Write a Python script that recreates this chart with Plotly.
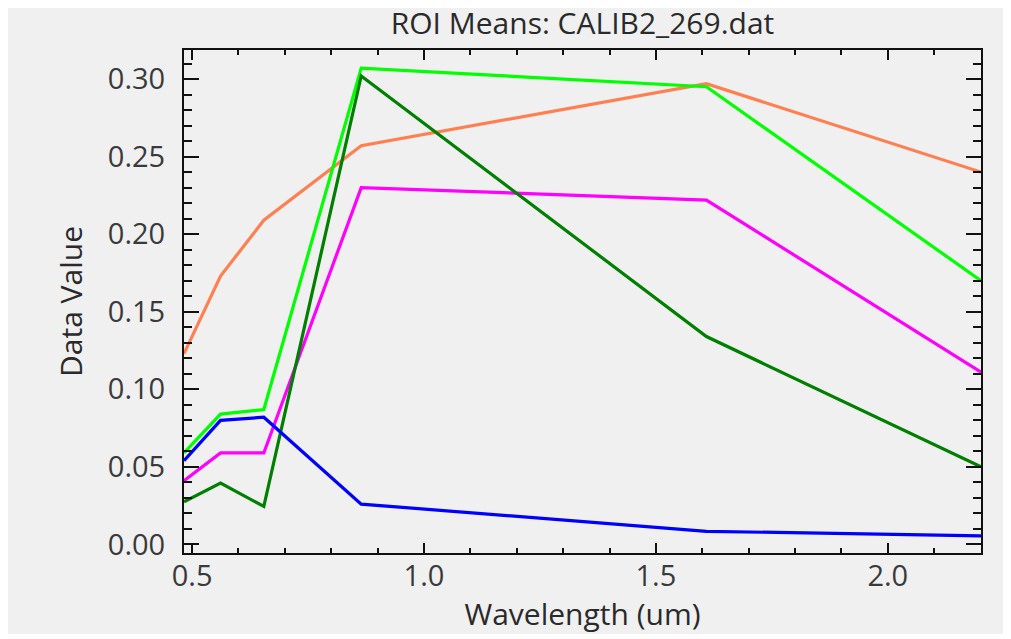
import plotly.graph_objects as go

# Wavelengths (um) of the band centres
wavelength = [0.4825, 0.5613, 0.6546, 0.8646, 1.6090, 2.2010]

# ROI mean spectra
roi_orange = [0.123, 0.173, 0.209, 0.257, 0.297, 0.240]
roi_lime = [0.059, 0.084, 0.087, 0.307, 0.295, 0.170]
roi_magenta = [0.041, 0.059, 0.059, 0.230, 0.222, 0.111]
roi_darkgreen = [0.0275, 0.0395, 0.0245, 0.302, 0.134, 0.050]
roi_blue = [0.054, 0.080, 0.082, 0.026, 0.0085, 0.0055]

series = [
    ("ROI 1", roi_orange, "#FF7F50"),
    ("ROI 2", roi_lime, "#00FF00"),
    ("ROI 3", roi_magenta, "#FF00FF"),
    ("ROI 4", roi_darkgreen, "#008000"),
    ("ROI 5", roi_blue, "#0000FF"),
]

x_ticks = [0.5, 1.0, 1.5, 2.0]
x_tick_text = ["0.5", "1.0", "1.5", "2.0"]
y_ticks = [0.00, 0.05, 0.10, 0.15, 0.20, 0.25, 0.30]
y_tick_text = ["0.00", "0.05", "0.10", "0.15", "0.20", "0.25", "0.30"]

fig = go.Figure()
for name, vals, col in series:
    fig.add_trace(go.Scatter(x=wavelength, y=vals, mode="lines", name=name,
                             line=dict(color=col, width=3.2)))

W, H = 998, 626
ml, mr, mt, mb = 176, 25, 42, 81
pw, ph = W - ml - mr, H - mt - mb

BG = "#f0f0f0"
FONT = "Open Sans, Noto Sans, sans-serif"

fig.update_layout(
    width=W, height=H,
    margin=dict(l=ml, r=mr, t=mt, b=mb),
    paper_bgcolor=BG,
    plot_bgcolor=BG,
    showlegend=False,
    font=dict(family=FONT, color="#333333"),
    title=dict(text="ROI Means: CALIB2_269.dat", x=(ml + pw / 2) / W, xanchor="center",
               y=1 - 15 / H, yanchor="middle",
               font=dict(family=FONT, size=30, color="#2a2a2a")),
)

fig.update_xaxes(
    range=[0.4825, 2.201], tickvals=x_ticks, ticktext=x_tick_text,
    ticks="inside", ticklen=10, tickwidth=2, tickcolor="#111111",
    minor=dict(dtick=0.1, tick0=0.0, ticks="inside", ticklen=5, tickwidth=2, tickcolor="#111111"),
    showline=True, linewidth=2, linecolor="#111111", mirror="allticks",
    showgrid=False, zeroline=False,
    ticklabelstandoff=-4,
    tickfont=dict(family=FONT, size=29, color="#3a3a3a"),
    title=dict(text="Wavelength (um)", standoff=4,
               font=dict(family=FONT, size=30, color="#2a2a2a")),
)
fig.update_yaxes(
    range=[-0.0055, 0.3187], tickvals=y_ticks, ticktext=y_tick_text,
    ticks="inside", ticklen=15, tickwidth=2, tickcolor="#111111",
    minor=dict(dtick=0.01, tick0=0.0, ticks="inside", ticklen=8, tickwidth=2, tickcolor="#111111"),
    showline=True, linewidth=2, linecolor="#111111", mirror="allticks",
    showgrid=False, zeroline=False,
    ticklabelstandoff=11,
    tickfont=dict(family=FONT, size=29, color="#3a3a3a"),
    title=dict(text="Data Value", standoff=16,
               font=dict(family=FONT, size=30, color="#2a2a2a")),
)

fig.write_html("out.html")
